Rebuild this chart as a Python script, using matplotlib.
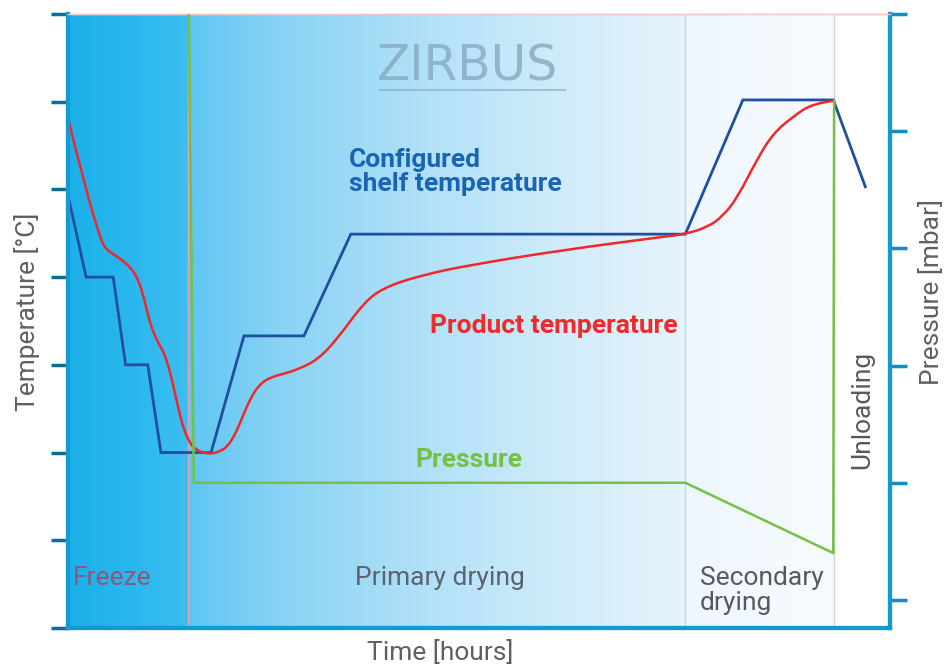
import matplotlib
matplotlib.use("Agg")
import matplotlib.pyplot as plt
import numpy as np
from matplotlib.colors import to_rgb
from matplotlib.path import Path
from matplotlib.patches import PathPatch

plt.rcParams["font.family"] = ["Roboto", "DejaVu Sans"]

# --- chart values (time in arbitrary hours, temperature / pressure in tick units)
shelf_t = [0, 2.2, 5.5, 7.0, 9.7, 11.3, 17.4, 21.4, 28.7, 34.4, 75.1, 82.1, 93.1, 97.0]
shelf_T = [4.93, 4.0, 4.0, 3.0, 3.0, 2.0, 2.0, 3.33, 3.33, 4.49, 4.49, 6.02, 6.02, 5.03]

product_t = [0.0, 2.0, 4.0, 4.6, 5.4, 6.5, 7.7, 8.5, 9.2, 10.0, 10.9, 11.8, 12.6, 13.3,
             14.1, 15.0, 15.8, 16.8, 17.7, 18.6, 19.4, 20.3, 21.2, 22.2, 23.3, 24.7,
             26.3, 28.0, 30.4, 32.8, 36.0, 38.4, 42.9, 49.0, 60.3, 72.4, 75.1, 77.8,
             79.6, 81.4, 83.8, 85.8, 88.2, 90.6, 93.1]
product_T = [5.81, 5.05, 4.42, 4.32, 4.27, 4.2, 4.1, 3.98, 3.78, 3.46, 3.26, 3.12, 2.85,
             2.55, 2.25, 2.08, 2.02, 1.99, 1.99, 2.02, 2.07, 2.2, 2.4, 2.62, 2.78, 2.86,
             2.9, 2.95, 3.06, 3.3, 3.71, 3.88, 4.02, 4.14, 4.31, 4.46, 4.49, 4.57,
             4.69, 4.9, 5.34, 5.64, 5.83, 5.98, 6.01]

pressure_t = [14.7, 15.3, 75.1, 93.1, 93.2]
pressure_p = [5.0, 1.0, 1.0, 0.40, 4.26]

phase_edges = [14.6, 75.1, 93.2]


def smooth_path(x, y):
    # quadratic b-spline style path through the read points
    pts = np.column_stack([x, y])
    verts = [pts[0]]
    codes = [Path.MOVETO]
    for i in range(1, len(pts) - 1):
        mid = (pts[i] + pts[i + 1]) / 2
        if i == len(pts) - 2:
            mid = pts[i + 1]
        verts += [pts[i], mid]
        codes += [Path.CURVE3, Path.CURVE3]
    return Path(verts, codes)


fig = plt.figure(figsize=(9.53, 6.66), dpi=100)
ax = fig.add_axes([0.0714, 0.0571, 0.8625, 0.9219])
ax.set_xlim(0, 100)
ax.set_ylim(0, 7)

# background gradient
stops_x = [0, 5, 14.5, 14.7, 25, 40, 60, 75.0, 75.2, 93.1, 93.3, 100]
stops_c = ["#1cb0e9", "#24b5ec", "#3cbef1", "#5ec6f3", "#86d2f5", "#aadef7",
           "#d0ecfa", "#e6f4fc", "#eef7fd", "#f7fbfe", "#ffffff", "#ffffff"]
xs = np.linspace(0, 100, 1200)
rgb = np.array([to_rgb(c) for c in stops_c])
grad = np.stack([np.interp(xs, stops_x, rgb[:, k]) for k in range(3)], axis=-1)
ax.imshow(grad[np.newaxis, :, :], extent=[0, 100, 0, 7], aspect="auto", zorder=0)

ax.axvline(phase_edges[0], color="#e4a6ae", lw=1.0, zorder=1)
for e in phase_edges[1:]:
    ax.axvline(e, color="#cfd6de", lw=1.0, zorder=1)

# watermark
ax.text(37.6, 6.4, "ZIRBUS", family=["Liberation Sans Narrow", "DejaVu Sans"],
        fontsize=35, color="#86a9c0", alpha=0.8, ha="left", va="center", zorder=1)
ax.plot([37.9, 60.4], [6.13, 6.13], color="#86a9c0", alpha=0.6, lw=1.5, zorder=1)

ax.plot(shelf_t, shelf_T, color="#1f4f9e", lw=2.0, zorder=4, solid_joinstyle="miter")
ax.add_patch(PathPatch(smooth_path(product_t, product_T), facecolor="none",
                       edgecolor="#f0282a", lw=1.8, zorder=5))

ax2 = ax.twinx()
ax2.set_ylim(-0.239, 5)
ax2.plot(pressure_t, pressure_p, color="#76c043", lw=1.8, zorder=3)

# labels inside the chart
fs = 19
ax.text(34.2, 5.2, "Configured\nshelf temperature", color="#1a64b4", fontsize=fs,
        fontweight="bold", ha="left", va="center", linespacing=1.03, zorder=6)
ax.text(44.0, 3.44, "Product temperature", color="#ee2a2a", fontsize=fs,
        fontweight="bold", ha="left", va="center", zorder=6)
ax.text(42.2, 1.92, "Pressure", color="#76c043", fontsize=fs,
        fontweight="bold", ha="left", va="center", zorder=6)
ax.text(0.6, 0.57, "Freeze", color="#8a5a78", fontsize=fs, ha="left", va="center", zorder=6)
ax.text(34.9, 0.57, "Primary drying", color="#5a6370", fontsize=fs, ha="left",
        va="center", zorder=6)
ax.text(76.9, 0.43, "Secondary\ndrying", color="#555a60", fontsize=fs, ha="left",
        va="center", linespacing=1.03, zorder=6)
ax.text(96.6, 2.49, "Unloading", color="#555a60", fontsize=fs, rotation=90,
        ha="center", va="center", zorder=6)

# axes styling
spine_c = "#139bd0"
for a in (ax, ax2):
    for side in ("left", "right", "bottom"):
        a.spines[side].set_color(spine_c)
        a.spines[side].set_linewidth(3)
    a.spines["top"].set_color("#f0c8cc")
    a.spines["top"].set_linewidth(1)
ax.set_xticks([])
ax.set_yticks(range(8))
ax.tick_params(axis="y", length=12, width=2.5, color="#0c6f9a", labelleft=False)
ax2.set_yticks(range(6))
ax2.tick_params(axis="y", length=12, width=2.5, color="#0e8fc0", labelright=False)

ax.set_ylabel("Temperature [°C]", color="#606060", fontsize=fs, labelpad=8, y=0.515)
ax.set_xlabel("Time [hours]", color="#606060", fontsize=fs, labelpad=9, x=0.4526)
ax2.set_ylabel("Pressure [mbar]", color="#606060", fontsize=fs, labelpad=9, y=0.547)

fig.savefig("out.png", dpi=100)
